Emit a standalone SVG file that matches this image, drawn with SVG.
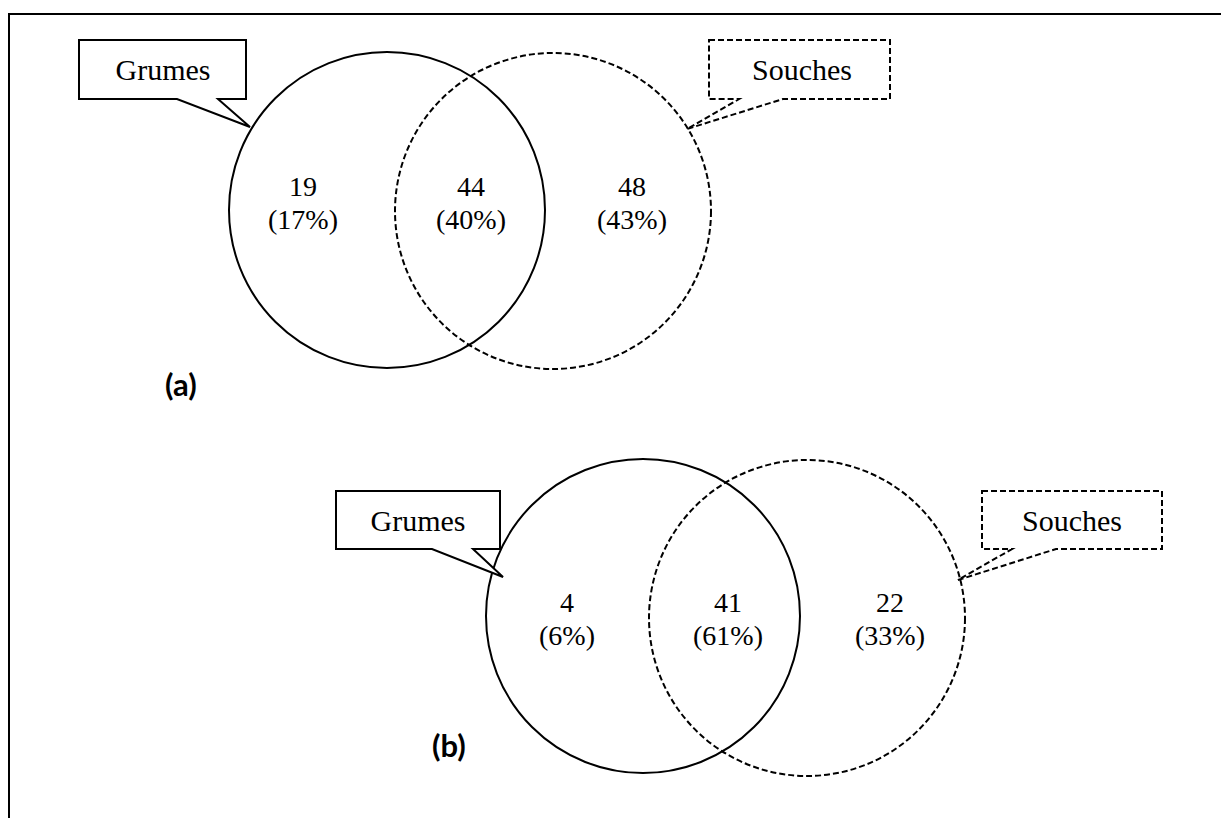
<svg xmlns="http://www.w3.org/2000/svg" width="1221" height="818" viewBox="0 0 1221 818">
<style>
.solid{fill:none;stroke:#000;stroke-width:2}
.dash{fill:none;stroke:#000;stroke-width:2;stroke-dasharray:6,3}
.box{fill:#fff;stroke:#000;stroke-width:2;stroke-linejoin:miter}
.boxd{fill:#fff;stroke:#000;stroke-width:2;stroke-dasharray:6,3}
.lbl{font-family:"Liberation Serif","DejaVu Serif",serif;font-size:30px;text-anchor:middle;fill:#000}
.num{font-family:"Liberation Serif","DejaVu Serif",serif;font-size:28px;text-anchor:middle;fill:#000}
.tag{font-family:Lato,"Liberation Sans",sans-serif;font-weight:bold;font-size:31px;fill:#000}
</style>
<rect width="1221" height="818" fill="#fff"/>
<path d="M9,818 V14 H1221" fill="none" stroke="#000" stroke-width="2"/>
<g id="venn-a">
<g id="a-grumes-circle"><circle class="solid" cx="387" cy="210" r="158"/></g>
<g id="a-souches-circle"><circle class="dash" cx="553" cy="211" r="158"/></g>
<g id="a-grumes-label">
<path class="box" d="M79,40 H246 V99 H218 L250,127 L177,99 H79 Z"/>
<text class="lbl" x="163" y="80">Grumes</text>
</g>
<g id="a-souches-label">
<path class="boxd" d="M709,40 H890 V99 H783 L687,129 L739,99 H709 Z"/>
<text class="lbl" x="802" y="80">Souches</text>
</g>
<g id="a-left"><text class="num" x="303" y="196">19</text><text class="num" x="303" y="229">(17%)</text></g>
<g id="a-mid"><text class="num" x="471" y="196">44</text><text class="num" x="471" y="229">(40%)</text></g>
<g id="a-right"><text class="num" x="632" y="196">48</text><text class="num" x="632" y="229">(43%)</text></g>
<text class="tag" x="165" y="396">(a)</text>
</g>
<g id="venn-b">
<g id="b-grumes-circle"><circle class="solid" cx="643" cy="616" r="157"/></g>
<g id="b-souches-circle"><circle class="dash" cx="807" cy="618" r="158"/></g>
<g id="b-grumes-label">
<path class="box" d="M336,491 H500 V549 H473 L503,577 L432,549 H336 Z"/>
<text class="lbl" x="418" y="531">Grumes</text>
</g>
<g id="b-souches-label">
<path class="boxd" d="M982,491 H1162 V549 H1056 L958,580 L1012,549 H982 Z"/>
<text class="lbl" x="1072" y="531">Souches</text>
</g>
<g id="b-left"><text class="num" x="567" y="612">4</text><text class="num" x="567" y="645">(6%)</text></g>
<g id="b-mid"><text class="num" x="728" y="612">41</text><text class="num" x="728" y="645">(61%)</text></g>
<g id="b-right"><text class="num" x="890" y="612">22</text><text class="num" x="890" y="645">(33%)</text></g>
<text class="tag" x="432" y="757">(b)</text>
</g>
</svg>
